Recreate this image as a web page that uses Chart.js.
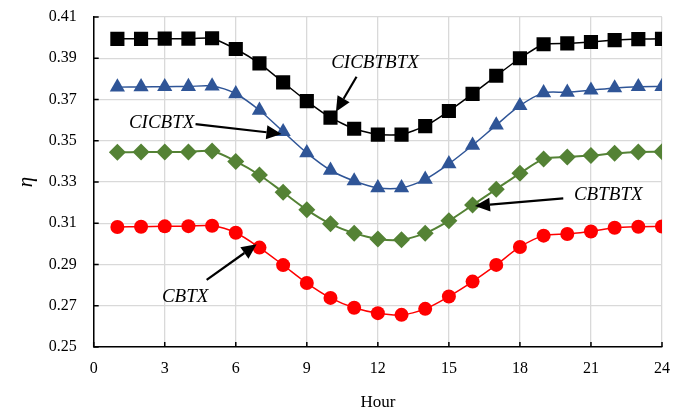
<!DOCTYPE html>
<html>
<head>
<meta charset="utf-8">
<script src="https://cdn.jsdelivr.net/npm/chart.js@4.4.0/dist/chart.umd.min.js"></script>
<style>
  html, body { margin: 0; padding: 0; background: #fff; }
  #wrap { width: 688px; height: 414px; position: relative; }
</style>
</head>
<body>
<div id="wrap"><canvas id="eta"></canvas></div>
<script>
// Efficiency over a day, one series per configuration
const hours = [1, 2, 3, 4, 5, 6, 7, 8, 9, 10, 11, 12, 13, 14, 15, 16, 17, 18, 19, 20, 21, 22, 23, 24];
const cicbtbtx = [0.3994, 0.3994, 0.3995, 0.3995, 0.3997, 0.3945, 0.3875, 0.3783, 0.3692, 0.3612, 0.3558, 0.3530,
                  0.3530, 0.3571, 0.3644, 0.3727, 0.3815, 0.3900, 0.3968, 0.3972, 0.3979, 0.3988, 0.3993, 0.3994];
const cicbtx = [0.3760, 0.3761, 0.3762, 0.3763, 0.3765, 0.3728, 0.3648, 0.3544, 0.3441, 0.3357, 0.3305, 0.3272,
                0.3272, 0.3313, 0.3388, 0.3478, 0.3576, 0.3670, 0.3732, 0.3735, 0.3745, 0.3756, 0.3762, 0.3763];
const cbtbtx = [0.3444, 0.3445, 0.3446, 0.3446, 0.3450, 0.3400, 0.3334, 0.3250, 0.3165, 0.3097, 0.3052, 0.3024,
                0.3020, 0.3052, 0.3112, 0.3188, 0.3265, 0.3342, 0.3411, 0.3421, 0.3428, 0.3439, 0.3446, 0.3447];
const cbtx = [0.3082, 0.3083, 0.3085, 0.3086, 0.3088, 0.3054, 0.2982, 0.2897, 0.2810, 0.2738, 0.2690, 0.2664,
              0.2656, 0.2685, 0.2745, 0.2817, 0.2898, 0.2985, 0.3040, 0.3048, 0.3060, 0.3078, 0.3083, 0.3084];
const xTicks = [0, 3, 6, 9, 12, 15, 18, 21, 24];
const yTicks = [0.25, 0.27, 0.29, 0.31, 0.33, 0.35, 0.37, 0.39, 0.41];

// callouts: text position and arrow from -> to, in hour / eta units
const callouts = [
  { text: "CICBTBTX", at: [11.88, 0.3875], from: [11.10, 0.3810], to: [10.23, 0.3641] },
  { text: "CICBTX", at: [2.87, 0.3585], from: [4.30, 0.3581], to: [7.93, 0.3533] },
  { text: "CBTBTX", at: [21.73, 0.3237], from: [19.83, 0.3221], to: [16.10, 0.3184] },
  { text: "CBTX", at: [3.86, 0.2744], from: [4.77, 0.2825], to: [6.88, 0.2998] }
];

const serif = "'Liberation Serif', 'Times New Roman', serif";

function series(label, values, color, style, radius, width, tension) {
  return {
    label: label,
    data: hours.map((h, i) => ({ x: h, y: values[i] })),
    borderColor: color,
    backgroundColor: color,
    borderWidth: width,
    pointStyle: style,
    pointRadius: radius,
    pointHoverRadius: radius,
    pointBorderWidth: 0,
    tension: tension
  };
}

// short tick marks pointing into the plot, like the original axes
const innerTicks = {
  id: "innerTicks",
  afterDatasetsDraw(chart) {
    const { ctx, chartArea: a, scales: { x, y } } = chart;
    ctx.save();
    ctx.strokeStyle = "#000";
    ctx.lineWidth = 1.5;
    ctx.beginPath();
    xTicks.forEach(t => {
      const px = x.getPixelForValue(t);
      ctx.moveTo(px, a.bottom);
      ctx.lineTo(px, a.bottom - 5);
    });
    yTicks.forEach(t => {
      const py = y.getPixelForValue(t);
      ctx.moveTo(a.left, py);
      ctx.lineTo(a.left + 5, py);
    });
    ctx.stroke();
    ctx.restore();
  }
};

const arrowLabels = {
  id: "arrowLabels",
  afterDatasetsDraw(chart) {
    const { ctx, scales: { x, y } } = chart;
    ctx.save();
    callouts.forEach(c => {
      const x1 = x.getPixelForValue(c.from[0]), y1 = y.getPixelForValue(c.from[1]);
      const x2 = x.getPixelForValue(c.to[0]), y2 = y.getPixelForValue(c.to[1]);
      const ang = Math.atan2(y2 - y1, x2 - x1);
      const headLen = 15, headW = 7;
      const bx = x2 - headLen * Math.cos(ang), by = y2 - headLen * Math.sin(ang);
      ctx.strokeStyle = "#000";
      ctx.fillStyle = "#000";
      ctx.lineWidth = 2.2;
      ctx.beginPath();
      ctx.moveTo(x1, y1);
      ctx.lineTo(bx, by);
      ctx.stroke();
      ctx.beginPath();
      ctx.moveTo(x2, y2);
      ctx.lineTo(bx + headW * Math.sin(ang), by - headW * Math.cos(ang));
      ctx.lineTo(bx - headW * Math.sin(ang), by + headW * Math.cos(ang));
      ctx.closePath();
      ctx.fill();

      ctx.font = "italic 19px " + serif;
      ctx.textAlign = "center";
      ctx.textBaseline = "middle";
      ctx.fillText(c.text, x.getPixelForValue(c.at[0]), y.getPixelForValue(c.at[1]));
    });
    ctx.restore();
  }
};

new Chart(document.getElementById("eta"), {
  type: "line",
  data: {
    datasets: [
      series("CICBTBTX", cicbtbtx, "#000000", "rect", 10, 1.5, 0.15),
      series("CICBTX", cicbtx, "#2F5597", "triangle", 8.8, 1.5, 0.3),
      series("CBTBTX", cbtbtx, "#548235", "rectRot", 8.5, 2, 0.3),
      series("CBTX", cbtx, "#FF0000", "circle", 7, 1.5, 0.3)
    ]
  },
  options: {
    responsive: true,
    maintainAspectRatio: false,
    animation: false,
    layout: { padding: { top: 17, right: 26, left: 0, bottom: 0 } },
    plugins: {
      legend: { display: false },
      tooltip: { enabled: false }
    },
    scales: {
      x: {
        type: "linear",
        min: 0,
        max: 24,
        afterBuildTicks: (s) => { s.ticks = xTicks.map(v => ({ value: v })); },
        afterFit: (s) => { s.height = 67; s.paddingLeft = 0; s.paddingRight = 0; },
        grid: { color: "#d9d9d9", lineWidth: 1.3, drawTicks: false },
        border: { color: "#000", width: 1.5 },
        ticks: {
          color: "#000",
          padding: 12,
          maxRotation: 0,
          font: { family: serif, size: 16 }
        },
        title: {
          display: true,
          text: "Hour",
          color: "#000",
          padding: { top: 0, bottom: 1 },
          font: { family: serif, size: 17 }
        }
      },
      y: {
        min: 0.25,
        max: 0.41,
        afterBuildTicks: (s) => { s.ticks = yTicks.map(v => ({ value: v })); },
        afterFit: (s) => { s.width = 93.7; s.paddingTop = 0; s.paddingBottom = 0; },
        grid: { color: "#d9d9d9", lineWidth: 1.3, drawTicks: false },
        border: { color: "#000", width: 1.5 },
        ticks: {
          color: "#000",
          padding: 17,
          font: { family: serif, size: 16 },
          callback: (v) => v.toFixed(2)
        },
        title: {
          display: true,
          text: "η",
          color: "#000",
          padding: { top: 14, bottom: 0 },
          font: { family: serif, size: 21, style: "italic" }
        }
      }
    }
  },
  plugins: [innerTicks, arrowLabels]
});
</script>
</body>
</html>
